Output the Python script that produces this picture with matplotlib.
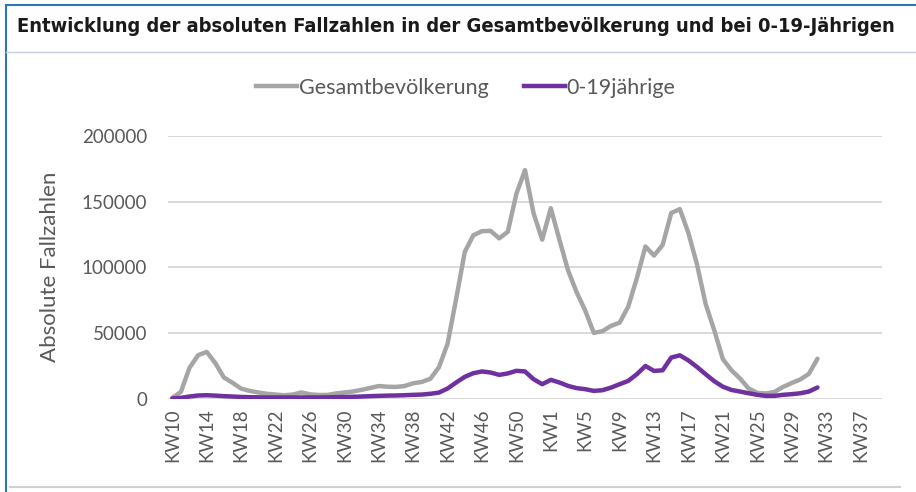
import matplotlib
matplotlib.use('Agg')
import matplotlib.pyplot as plt
from matplotlib import font_manager
from matplotlib.lines import Line2D

# Kalenderwochen KW10/2020 .. KW39/2021 (2020 hatte 53 Wochen)
kw_labels = [f"KW{w}" for w in list(range(10, 54)) + list(range(1, 40))]

gesamt = [500, 5000, 23400, 33000, 35500, 27000, 16000, 12000, 7500, 5800,
          4600, 3600, 3000, 2500, 3000, 4600, 3200, 2700, 2700, 3800,
          4600, 5300, 6600, 8000, 9500, 9000, 8800, 9500, 11600, 12600,
          15000, 23900, 41700, 76000, 111700, 124400, 127500, 127700, 122000, 127000,
          156000, 174000, 141000, 121000, 145000, 121000, 97700, 81000, 67000, 50000,
          51300, 55300, 57800, 70000, 91600, 115800, 108900, 117000, 141300, 144300,
          126000, 102000, 72000, 52000, 30000, 21500, 15200, 7600, 4300, 3800,
          5000, 8800, 11800, 14500, 18800, 30300]

jung = [0, 500, 1500, 2300, 2500, 2200, 1800, 1500, 1200, 1000,
        900, 800, 800, 800, 800, 800, 800, 800, 900, 1000,
        1200, 1300, 1500, 1800, 2000, 2200, 2300, 2500, 2800, 3000,
        3600, 4500, 7600, 12200, 16500, 19300, 20600, 19800, 18000, 19100,
        21100, 20600, 14700, 10900, 14200, 12200, 9600, 7900, 7100, 5800,
        6300, 8300, 10900, 13400, 18500, 24800, 21000, 21500, 31200, 32900,
        29000, 24000, 18500, 13200, 9000, 6500, 5300, 4000, 2800, 2000,
        2000, 2800, 3300, 4000, 5300, 8400]

yticks = [0, 50000, 100000, 150000, 200000]

names = {f.name for f in font_manager.fontManager.ttflist}
body_font = 'Lato' if 'Lato' in names else 'DejaVu Sans'
condensed = [f for f in font_manager.fontManager.ttflist
             if f.name == 'DejaVu Sans' and 'ondensed' in str(f.stretch) + f.fname]
print('condensed dejavu:', [f.fname for f in condensed])

W, H = 916, 492
fig = plt.figure(figsize=(W / 100, H / 100), dpi=100)

ax = fig.add_axes([168 / W, 1 - 398.5 / H, 714 / W, 262.5 / H])
x = list(range(len(gesamt)))
ax.plot(x, gesamt, color='#a5a5a5', lw=3.2, solid_joinstyle='round', solid_capstyle='round',
        label='Gesamtbevölkerung', zorder=3)
ax.plot(x, jung, color='#7030a0', lw=3.2, solid_joinstyle='round', solid_capstyle='round',
        label='0-19jährige', zorder=4)

ax.set_xlim(-0.5, len(kw_labels) - 0.5)
ax.set_ylim(0, 200000)
ax.set_yticks(yticks)
ax.set_yticklabels([str(v) for v in yticks])
ax.set_xticks(range(0, len(kw_labels), 4))
ax.set_xticklabels(kw_labels[::4], rotation=90)
for s in ax.spines.values():
    s.set_visible(False)
ax.grid(axis='y', color='#d9d9d9', lw=1.4)
ax.set_axisbelow(True)
ax.tick_params(axis='both', length=0, labelsize=13.5, colors='#595959')
ax.tick_params(axis='y', pad=15)
ax.tick_params(axis='x', pad=7)
for lab in ax.get_xticklabels() + ax.get_yticklabels():
    lab.set_family(body_font)

ax.set_ylabel('Absolute Fallzahlen', fontsize=16, color='#595959', family=body_font)
ax.yaxis.set_label_coords(-0.151, 0.5)

handles = [Line2D([], [], color='#a5a5a5', lw=3.2), Line2D([], [], color='#7030a0', lw=3.2)]
fig.legend(handles, ['Gesamtbevölkerung', '0-19jährige'], loc='center',
           bbox_to_anchor=(466 / W, 1 - 88 / H), ncol=2, frameon=False,
           prop={'family': body_font, 'size': 15.5}, labelcolor='#595959',
           handlelength=1.9, handletextpad=0.1, columnspacing=1.6)

title = fig.text(17 / W, 1 - 27 / H, 'Entwicklung der absoluten Fallzahlen in der Gesamtbevölkerung und bei 0-19-Jährigen',
                 ha='left', va='center', fontsize=14, fontweight='bold', color='#1a1a1a',
                 family='DejaVu Sans', fontstretch='condensed' if condensed else 'normal')
fig.canvas.draw()
tw = title.get_window_extent().width
title.set_fontsize(14 * 888 / tw)

# Rahmen
fig.add_artist(Line2D([6 / W, 6 / W], [0, 1 - 5 / H], color='#2e75b6', lw=1.5))
fig.add_artist(Line2D([6 / W, 1], [1 - 5 / H, 1 - 5 / H], color='#2e75b6', lw=1.5))
fig.add_artist(Line2D([6 / W, 1], [1 - 52 / H, 1 - 52 / H], color='#c5d0dc', lw=1.0))
fig.add_artist(Line2D([10 / W, 900 / W], [1 - 487 / H, 1 - 487 / H], color='#d0d0d0', lw=1.5))

fig.savefig('out.png', dpi=100)
